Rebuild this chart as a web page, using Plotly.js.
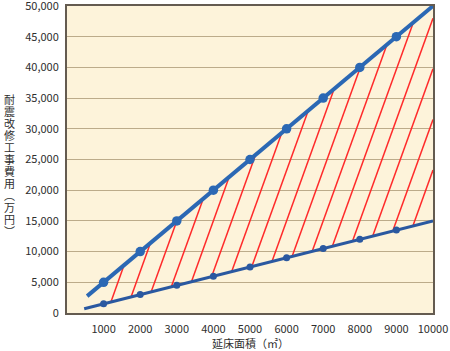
<!DOCTYPE html>
<html>
<head>
<meta charset="utf-8">
<script src="https://cdn.plot.ly/plotly-3.0.1.min.js"></script>
<style>html,body{margin:0;padding:0;background:#fff;}#chart{width:450px;height:351px;}</style>
</head>
<body>
<div id="chart"></div>
<script>
// Floor area (㎡) at marked points
const floorArea = [1000, 2000, 3000, 4000, 5000, 6000, 7000, 8000, 9000];
// Upper bound of retrofit cost (万円)
const upperCost = [5000, 10000, 15000, 20000, 25000, 30000, 35000, 40000, 45000];
// Lower bound of retrofit cost (万円)
const lowerCost = [1500, 3000, 4500, 6000, 7500, 9000, 10500, 12000, 13500];
// Line end points
const upperEndX = [550, 10000];
const upperEndY = [2750, 50000];
const lowerEndX = [470, 10000];
const lowerEndY = [700, 15000];
// Red hatch segments (bottom on lower line, top on upper line / right edge)
const hatchBottomX = [1200, 1750, 2300, 2850, 3400, 3950, 4500, 5050, 5600, 6150, 6700, 7250, 7800, 8350, 8900, 9450];
const hatchBottomY = [1800, 2620, 3450, 4270, 5100, 5920, 6750, 7570, 8400, 9220, 10050, 10870, 11700, 12520, 13350, 14170];
const hatchTopX = [1560, 2280, 3000, 3720, 4430, 5150, 5870, 6590, 7300, 8020, 8740, 9460, 10000, 10000, 10000, 10000];
const hatchTopY = [7800, 11400, 15000, 18580, 22170, 25750, 29340, 32930, 36520, 40100, 43690, 47280, 48010, 39770, 31520, 23270];
// Axis ticks
const xTickVals = [1000, 2000, 3000, 4000, 5000, 6000, 7000, 8000, 9000, 10000];
const xTickText = ['1000', '2000', '3000', '4000', '5000', '6000', '7000', '8000', '9000', '10000'];
const yTickVals = [0, 5000, 10000, 15000, 20000, 25000, 30000, 35000, 40000, 45000, 50000];
const xTitle = '延床面積（㎡）';
const yTitle = '耐震改修工事費用（万円）';

const hx = [], hy = [];
for (let i = 0; i < hatchBottomX.length; i++) {
  hx.push(hatchBottomX[i], hatchTopX[i], null);
  hy.push(hatchBottomY[i], hatchTopY[i], null);
}

const upperColor = '#2b68b4';
const lowerColor = '#2a58a0';

const traces = [
  {x: hx, y: hy, mode: 'lines', line: {color: '#ff2a2a', width: 1.5}, hoverinfo: 'skip', connectgaps: false},
  {x: [lowerEndX[0]].concat(floorArea, [lowerEndX[1]]), y: [lowerEndY[0]].concat(lowerCost, [lowerEndY[1]]),
   mode: 'lines', line: {color: lowerColor, width: 3}},
  {x: floorArea, y: lowerCost, mode: 'markers', marker: {color: lowerColor, size: 7}, cliponaxis: false},
  {x: [upperEndX[0]].concat(floorArea, [upperEndX[1]]), y: [upperEndY[0]].concat(upperCost, [upperEndY[1]]),
   mode: 'lines', line: {color: upperColor, width: 4}},
  {x: floorArea, y: upperCost, mode: 'markers', marker: {color: upperColor, size: 9.5}, cliponaxis: false}
];

const font = {family: '"Noto Sans CJK JP", "Noto Sans", sans-serif', size: 11, color: '#2e2e2e'};

const layout = {
  width: 450, height: 351,
  margin: {l: 67, r: 17, t: 6, b: 38, pad: 0},
  paper_bgcolor: '#ffffff',
  plot_bgcolor: '#fdf3da',
  showlegend: false,
  font: font,
  separators: '.,',
  xaxis: {
    range: [0, 10000], tickvals: xTickVals, ticktext: xTickText,
    showgrid: false, zeroline: false, showline: true, mirror: true,
    linecolor: '#645b50', linewidth: 2, ticks: '', ticklabelstandoff: 5,
    ticklabeloverflow: 'allow', tickfont: font, fixedrange: true
  },
  yaxis: {
    range: [0, 50000], tickvals: yTickVals, tickformat: ',d',
    showgrid: true, gridcolor: '#bcab8a', gridwidth: 1,
    zeroline: false, showline: true, mirror: true,
    linecolor: '#645b50', linewidth: 2, ticks: '', ticklabelstandoff: 4,
    ticklabeloverflow: 'allow', tickfont: font, fixedrange: true
  },
  annotations: [
    {text: xTitle, xref: 'paper', yref: 'paper', x: 0.5, y: -0.098, xanchor: 'center', yanchor: 'middle',
     showarrow: false, font: font},
    {text: yTitle, xref: 'paper', yref: 'paper', x: -0.157, y: 0.48, xanchor: 'center', yanchor: 'middle',
     showarrow: false, font: font}
  ]
};

Plotly.newPlot('chart', traces, layout, {staticPlot: true, displayModeBar: false}).then(() => {
  // Turn the y title into vertical (tategaki) text with upright characters
  const texts = document.querySelectorAll('#chart .annotation-text');
  const t = texts[1];
  if (!t) return;
  const svg = t.ownerSVGElement;
  const m = t.getScreenCTM().inverse();
  const pt = svg.createSVGPoint();
  pt.x = 9.5; pt.y = 166;
  const local = pt.matrixTransform(m);
  t.style.writingMode = 'vertical-rl';
  t.style.textOrientation = 'mixed';
  t.style.letterSpacing = '1px';
  t.setAttribute('text-anchor', 'middle');
  t.setAttribute('x', local.x);
  t.setAttribute('y', local.y);
  t.querySelectorAll('tspan').forEach(s => { s.removeAttribute('x'); s.removeAttribute('y'); s.removeAttribute('dy'); });
  const bg = t.parentNode.querySelector('rect.bg');
  if (bg) bg.setAttribute('width', 0);
});
</script>
</body>
</html>
